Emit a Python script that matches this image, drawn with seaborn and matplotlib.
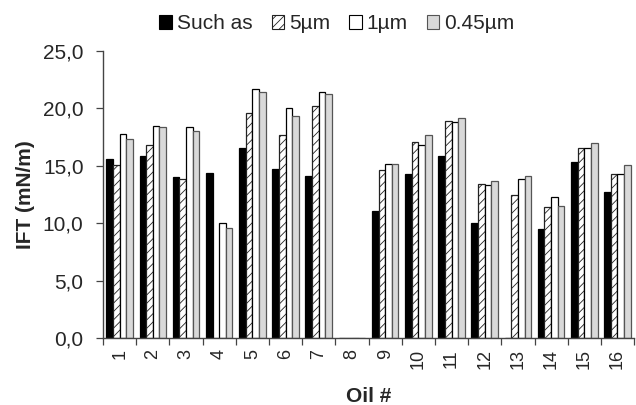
import matplotlib
matplotlib.use("Agg")
import matplotlib.pyplot as plt
import matplotlib.patches as mpatches
import seaborn as sns
import pandas as pd
from matplotlib.ticker import FuncFormatter, FixedLocator

oils = [str(i) for i in range(1, 17)]
series_names = ["Such as", "5µm", "1µm", "0.45µm"]
such_as = [15.6, 15.9, 14.0, 14.4, 16.6, 14.7, 14.1, 0.0, 11.1, 14.3, 15.9, 10.0, 0.0, 9.5, 15.3, 12.7]
um5 = [15.1, 16.8, 13.9, 0.0, 19.6, 17.7, 20.2, 0.0, 14.6, 17.1, 18.9, 13.4, 12.5, 11.4, 16.6, 14.3]
um1 = [17.8, 18.5, 18.4, 10.05, 21.7, 20.0, 21.4, 0.0, 15.2, 16.8, 18.8, 13.3, 13.9, 12.3, 16.6, 14.3]
um045 = [17.3, 18.4, 18.0, 9.6, 21.4, 19.3, 21.3, 0.0, 15.2, 17.7, 19.2, 13.7, 14.1, 11.5, 17.0, 15.1]

rows = []
for name, vals in zip(series_names, [such_as, um5, um1, um045]):
    for o, v in zip(oils, vals):
        rows.append({"Oil": o, "IFT": v, "Series": name})
df = pd.DataFrame(rows)

sns.set_style("white")
plt.rcParams["font.family"] = ["Liberation Sans", "DejaVu Sans"]
plt.rcParams["hatch.linewidth"] = 0.6

fig = plt.figure(figsize=(6.36, 4.05), dpi=100)
ax = fig.add_axes([0.162, 0.165, 0.835, 0.709])

palette = {"Such as": "black", "5µm": "white", "1µm": "white", "0.45µm": "#d9d9d9"}
sns.barplot(data=df, x="Oil", y="IFT", hue="Series", order=oils, hue_order=series_names,
            palette=palette, width=0.8, edgecolor="black", linewidth=0.9,
            errorbar=None, ax=ax, legend=False)

for i, cont in enumerate(ax.containers):
    for p in cont.patches:
        if i == 1:
            p.set_hatch("////")
            p.set_edgecolor("#222222")
        if i == 3:
            p.set_edgecolor("#555555")

ax.set_xlim(-0.5, 15.5)
ax.set_ylim(0, 25)
ax.set_yticks([0, 5, 10, 15, 20, 25])
ax.yaxis.set_major_formatter(FuncFormatter(lambda v, p: f"{v:.1f}".replace(".", ",")))
ax.tick_params(axis="y", direction="out", length=5, width=0.9, color="#444444",
               labelsize=15, left=True, pad=9)
ax.set_xticks(range(16))
ax.set_xticklabels(oils, rotation=90)
ax.tick_params(axis="x", which="major", length=0, labelsize=13, pad=8)
ax.xaxis.set_minor_locator(FixedLocator([i - 0.5 for i in range(17)]))
ax.tick_params(axis="x", which="minor", direction="out", length=5, width=0.9,
               color="#444444", bottom=True)

for s in ["top", "right"]:
    ax.spines[s].set_visible(False)
for s in ["left", "bottom"]:
    ax.spines[s].set_color("#444444")
    ax.spines[s].set_linewidth(1.0)

ax.set_ylabel("IFT (mN/m)", fontsize=15, fontweight="bold", labelpad=6)
ax.set_xlabel("Oil #", fontsize=15, fontweight="bold", labelpad=13)

leg_handles = [
    mpatches.Patch(facecolor="black", edgecolor="black", lw=0.8),
    mpatches.Patch(facecolor="white", edgecolor="#222222", hatch="////", lw=0.8),
    mpatches.Patch(facecolor="white", edgecolor="black", lw=0.8),
    mpatches.Patch(facecolor="#d9d9d9", edgecolor="#555555", lw=0.8),
]
fig.legend(leg_handles, series_names, loc="center", bbox_to_anchor=(0.53, 0.941),
           ncol=4, frameon=False, fontsize=15, handlelength=0.6, handleheight=0.6,
           handletextpad=0.25, columnspacing=0.9, borderpad=0.1)

fig.savefig("out.png", dpi=100)
